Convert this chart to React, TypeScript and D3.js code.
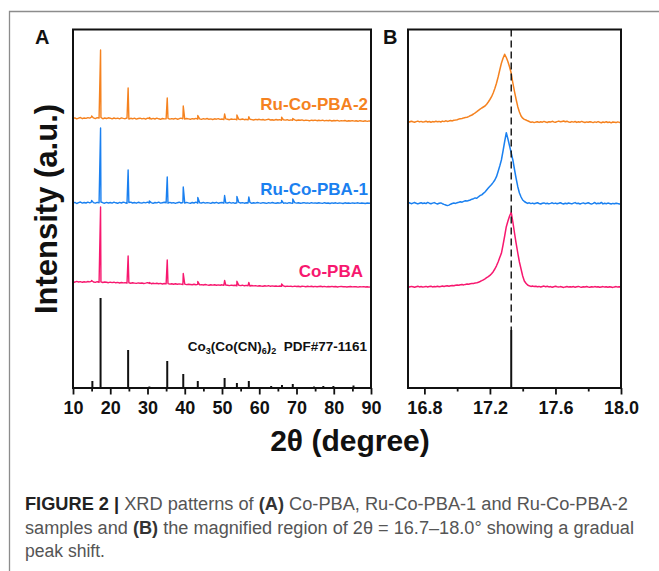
import React, { useEffect, useRef } from "react";
import * as d3 from "d3";

// panel A: baseline noise on a 0.5° grid from 10°, plus sharp peak tops
const aStart = 10;
const aStep = 0.5;
// panel B: 0.01° grid from 16.70° to 18.00°
const bStart = 16.7;
const bStep = 0.01;

const orangeBase = [
  6.5, 7.2, 6.1, 6.8, 7.5, 6.3, 7.0, 6.6, 7.4, 6.9,
  8.0, 7.1, 6.4, 7.3, 6.9, 7.6, 6.2, 7.0, 6.5, 7.2,
  6.8, 6.1, 7.0, 6.4, 6.9, 6.2, 7.1, 6.6, 6.3, 7.0,
  6.0, 6.7, 6.2, 6.9, 5.9, 6.5, 6.8, 6.1, 6.6, 5.8,
  6.9, 6.3, 5.9, 6.6, 6.0, 6.8, 6.2, 5.7, 6.5, 6.1,
  6.3, 6.7, 5.9, 6.4, 6.0, 6.6, 5.8, 6.3, 6.9, 6.2,
  5.9, 6.5, 6.1, 5.7, 6.4, 6.0, 6.6, 5.8, 6.2, 5.6,
  6.3, 5.9, 6.5, 5.7, 6.1, 5.5, 6.2, 5.8, 6.4, 5.6,
  6.0, 5.4, 6.1, 5.8, 5.3, 6.0, 5.6, 5.9, 5.2, 5.8,
  5.5, 6.0, 5.3, 5.7, 5.1, 5.8, 5.4, 5.0, 5.6, 5.2,
  5.7, 5.1, 5.5, 4.9, 5.4, 5.8, 5.0, 5.3, 4.8, 5.5,
  5.0, 5.4, 4.7, 5.2, 4.9, 5.3, 4.6, 5.1, 4.8, 5.2,
  4.5, 5.0, 4.7, 5.1, 4.4, 4.9, 4.6, 4.2, 4.8, 4.5,
  4.9, 4.3, 4.7, 4.4, 4.8, 4.1, 4.6, 4.3, 4.7, 4.0,
  4.5, 4.2, 4.6, 3.9, 4.4, 4.1, 4.5, 3.8, 4.3, 4.0,
  4.4, 3.9, 4.2, 3.7, 4.3, 4.0, 3.8, 4.2, 3.6, 4.1,
  3.9,
];
const orangePeaks = [
  [15.0, 9], [17.4, 75], [24.8, 37], [30.5, 7.5], [35.3, 27], [39.6, 19],
  [43.5, 9.5], [50.7, 11], [54.0, 10], [57.2, 8.2], [66.0, 7.8], [69.0, 6.5],
];

const blueBase = [
  4.8, 5.6, 4.5, 5.3, 6.0, 4.9, 5.5, 5.0, 5.8, 5.2,
  6.2, 5.4, 4.9, 5.7, 5.1, 6.0, 5.3, 4.8, 5.6, 5.0,
  5.5, 4.9, 5.8, 5.2, 4.7, 5.6, 5.0, 5.9, 5.3, 4.8,
  5.4, 5.9, 5.0, 5.5, 4.8, 5.7, 5.2, 4.9, 5.6, 5.1,
  5.8, 5.0, 5.4, 4.7, 5.5, 5.1, 5.9, 4.9, 5.3, 5.7,
  5.2, 4.8, 5.6, 5.0, 5.4, 4.6, 5.3, 5.8, 5.0, 5.5,
  4.9, 5.6, 5.1, 4.7, 5.5, 5.0, 5.8, 4.8, 5.3, 5.0,
  5.6, 4.9, 5.4, 5.1, 4.6, 5.5, 5.0, 5.7, 4.8, 5.2,
  5.5, 4.8, 5.3, 5.0, 5.7, 4.9, 5.4, 4.7, 5.2, 5.6,
  5.0, 5.4, 4.8, 5.3, 5.0, 5.6, 4.7, 5.2, 4.9, 5.5,
  5.1, 4.8, 5.4, 5.0, 4.6, 5.3, 4.9, 5.5, 5.0, 4.7,
  5.2, 4.9, 5.5, 4.8, 5.1, 4.6, 5.3, 5.0, 4.8, 5.4,
  4.9, 5.2, 4.7, 5.0, 5.4, 4.8, 5.1, 4.6, 5.3, 4.9,
  5.1, 4.7, 5.2, 4.9, 4.6, 5.3, 4.8, 5.0, 4.5, 5.1,
  4.8, 5.2, 4.6, 5.0, 4.9, 4.5, 5.2, 4.8, 5.0, 4.6,
  5.1, 4.7, 4.9, 5.2, 4.6, 5.0, 4.8, 4.5, 5.0, 4.8,
  4.9,
];
const bluePeaks = [
  [15.0, 7.5], [17.4, 80], [24.8, 38], [30.5, 7], [35.3, 31], [39.6, 21],
  [43.5, 10.5], [50.7, 12.5], [54.0, 11.5], [57.2, 11], [66.0, 7.5], [69.0, 9],
];

const pinkBase = [
  6.3, 5.8, 6.6, 6.0, 6.4, 5.7, 6.2, 5.9, 6.5, 6.1,
  6.8, 6.0, 5.6, 6.3, 5.8, 6.1, 5.5, 6.0, 5.7, 5.3,
  5.9, 5.4, 5.8, 5.2, 5.6, 5.0, 5.5, 5.1, 5.4, 4.9,
  5.3, 4.8, 5.2, 4.9, 4.6, 5.1, 4.7, 5.0, 4.5, 4.9,
  5.4, 4.6, 4.3, 4.8, 4.4, 4.7, 4.2, 4.6, 4.0, 4.5,
  4.1, 4.4, 3.9, 4.3, 3.8, 4.2, 3.7, 4.1, 3.9, 3.5,
  3.9, 3.4, 3.8, 3.5, 3.2, 3.7, 3.3, 3.6, 3.1, 3.4,
  3.0, 3.5, 3.1, 2.8, 3.3, 2.9, 3.2, 2.7, 3.1, 2.8,
  3.2, 2.6, 3.0, 2.7, 2.4, 2.9, 2.5, 2.8, 2.3, 2.7,
  2.4, 2.8, 2.2, 2.6, 2.3, 2.0, 2.5, 2.1, 2.4, 1.9,
  2.3, 2.0, 1.8, 2.2, 1.9, 2.3, 1.7, 2.1, 1.8, 2.0,
  1.6, 2.0, 1.7, 2.1, 1.5, 1.9, 1.6, 1.8, 1.4, 1.9,
  1.5, 1.8, 1.3, 1.7, 1.6, 1.2, 1.7, 1.4, 1.8, 1.3,
  1.6, 1.2, 1.5, 1.7, 1.3, 1.6, 1.1, 1.5, 1.3, 1.6,
  1.2, 1.5, 1.0, 1.4, 1.6, 1.2, 1.4, 1.0, 1.3, 1.5,
  1.1, 1.4, 1.2, 0.9, 1.3, 1.1, 1.4, 1.0, 1.2, 0.9,
  1.2,
];
const pinkPeaks = [
  [15.0, 7.5], [17.4, 81], [24.8, 32], [30.5, 5.5], [35.3, 28], [39.6, 14.5],
  [43.5, 6.5], [50.7, 7.5], [54.0, 6.8], [57.2, 5.5], [66.0, 4],
];

// Co3(Co(CN)6)2 PDF#77-1161 reference lines
const refSticks = [
  [15.2, 7], [17.4, 90], [24.8, 38], [30.5, 1.5], [35.3, 27], [39.6, 14],
  [43.5, 7], [50.7, 10], [54.0, 5], [57.2, 7], [63.2, 2], [66.1, 3],
  [69.0, 4], [74.7, 1.5], [77.2, 2], [79.9, 2], [85.3, 2.5], [87.9, 1],
];
const refStickB = [[17.33, 58]];

const orangeB = [
  3.5, 3.0, 3.8, 3.2, 2.7, 3.4, 3.9, 3.1, 3.6, 2.9,
  3.3, 3.8, 3.0, 3.5, 2.8, 3.4, 3.1, 3.7, 3.2, 3.6,
  3.0, 3.9, 3.4, 4.2, 3.6, 4.0, 4.5, 4.1, 4.8, 5.0,
  5.3, 5.9, 6.2, 6.5, 7.1, 7.5, 7.7, 8.4, 9.3, 10.0,
  11.0, 12.1, 13.3, 14.6, 15.8, 17.0, 18.0, 19.0, 20.8, 23.0,
  25.5, 28.3, 32.0, 36.5, 41.7, 48.0, 55.0, 61.7, 66.8, 70.7,
  67.5, 63.3, 58.0, 51.7, 42.0, 33.3, 25.5, 18.3, 13.0, 9.0,
  6.8, 5.6, 5.0, 4.2, 3.5, 2.7, 3.1, 2.4, 2.9, 3.3,
  2.6, 3.2, 2.8, 3.6, 3.0, 2.5, 3.3, 2.9, 3.7, 3.1,
  2.7, 3.4, 3.9, 3.2, 3.6, 4.0, 3.3, 3.8, 3.1, 2.8,
  3.4, 2.9, 3.5, 2.6, 3.2, 2.8, 3.6, 3.0, 2.5, 3.1,
  2.7, 3.3, 2.9, 2.4, 3.1, 2.6, 3.4, 2.8, 2.3, 3.0,
  2.6, 3.2, 2.5, 2.9, 2.2, 3.0, 2.7, 2.4, 3.1, 2.6,
  2.8,
];
const blueB = [
  4.6, 5.2, 4.3, 4.9, 5.5, 4.7, 4.1, 4.8, 5.3, 4.5,
  5.0, 4.4, 5.6, 4.8, 4.2, 4.9, 5.4, 4.6, 4.0, 4.7,
  5.1, 4.3, 3.6, 3.0, 2.4, 2.9, 3.8, 4.5, 5.0, 4.6,
  5.2, 5.7, 6.3, 5.8, 6.6, 7.2, 6.9, 7.5, 8.0, 8.8,
  9.3, 10.1, 9.8, 11.2, 12.5, 13.1, 14.6, 16.0, 18.0, 20.0,
  21.8, 23.5, 25.6, 28.0, 31.3, 36.5, 42.0, 48.0, 57.0, 66.5,
  75.3, 69.0, 62.0, 55.0, 48.0, 38.5, 29.5, 21.3, 15.0, 11.0,
  8.0, 6.5, 5.5, 4.6, 5.2, 4.4, 4.9, 4.2, 4.8, 5.3,
  4.5, 4.0, 4.7, 5.1, 4.3, 4.8, 4.1, 4.6, 5.2, 4.4,
  4.9, 4.2, 4.7, 5.3, 4.5, 4.0, 4.8, 4.3, 5.0, 4.6,
  4.1, 4.9, 5.4, 4.4, 4.8, 4.0, 4.6, 5.1, 4.3, 4.7,
  5.2, 4.5, 3.9, 4.6, 5.5, 4.2, 4.8, 4.4, 5.6, 4.1,
  4.7, 4.3, 4.9, 4.5, 4.0, 4.6, 4.2, 4.8, 4.4, 4.1,
  4.3,
];
const pinkB = [
  1.4, 1.0, 1.6, 1.2, 0.8, 1.3, 1.7, 1.1, 1.5, 0.9,
  1.2, 1.6, 1.0, 1.4, 1.8, 1.1, 1.5, 1.3, 1.7, 1.2,
  1.6, 2.0, 1.5, 1.9, 2.2, 1.8, 2.3, 2.6, 2.2, 2.8,
  3.0, 2.7, 3.2, 3.4, 3.1, 3.6, 3.9, 3.7, 4.2, 4.4,
  4.6, 4.9, 5.2, 5.8, 6.5, 7.3, 8.2, 9.2, 10.3, 11.4,
  12.6, 14.2, 16.3, 19.0, 22.2, 26.0, 30.5, 34.7, 43.0, 52.0,
  61.3, 67.0, 72.0, 75.7, 66.0, 55.0, 44.7, 35.0, 26.0, 19.0,
  12.0, 7.0, 4.7, 3.0, 2.2, 1.6, 2.0, 1.4, 1.8, 1.2,
  1.6, 1.0, 1.5, 1.9, 1.3, 1.7, 1.1, 1.4, 0.8, 1.3,
  1.7, 1.2, 0.9, 1.4, 1.0, 0.6, 1.1, 1.5, 0.9, 1.3,
  1.0, 1.4, 0.8, 1.2, 1.6, 1.1, 0.7, 1.3, 1.0, 1.5,
  1.1, 0.8, 1.3, 0.9, 1.4, 1.0, 1.2, 0.7, 1.1, 1.4,
  0.9, 1.2, 0.8, 1.3, 1.0, 0.6, 1.1, 1.4, 0.9, 1.2,
  1.0,
];

const seriesNames = ["Ru-Co-PBA-2", "Ru-Co-PBA-1", "Co-PBA"];
const seriesColors = ["#f5821f", "#1a80f0", "#f7186f"];
const xTicksA = [10, 20, 30, 40, 50, 60, 70, 80, 90];
const xMinorA = [15, 25, 35, 45, 55, 65, 75, 85];
const xTicksB = [16.8, 17.2, 17.6, 18.0];
const xMinorB = [17.0, 17.4, 17.8];

const App = () => {
  const ref = useRef(null);

  useEffect(() => {
    const svg = d3.select(ref.current);
    svg.selectAll("*").remove();

    const top = 29.5;
    const bottom = 388;
    const xA = d3.scaleLinear().domain([10, 90]).range([73, 371]);
    const xB = d3.scaleLinear().domain([16.7, 18.0]).range([408, 621]);
    const y = d3.scaleLinear().domain([0, 358.5]).range([bottom, top]);
    const offsets = [263, 180, 100];
    const font = "'Liberation Sans', Arial, sans-serif";

    // figure frame
    svg.append("path")
      .attr("d", "M9.5,571V11.5H659")
      .attr("fill", "none")
      .attr("stroke", "#8c8c8c")
      .attr("stroke-width", 1.3);

    // panel A curves
    const aSeries = [
      [orangeBase, orangePeaks],
      [blueBase, bluePeaks],
      [pinkBase, pinkPeaks],
    ].map(([base, peaks]) =>
      base
        .map((v, i) => [aStart + i * aStep, v])
        .concat(peaks)
        .sort((a, b) => a[0] - b[0])
    );

    aSeries.forEach((pts, i) => {
      const line = d3.line()
        .x((d) => xA(d[0]))
        .y((d) => y(d[1] + offsets[i]));
      svg.append("path")
        .datum(pts)
        .attr("d", line)
        .attr("fill", "none")
        .attr("stroke", seriesColors[i])
        .attr("stroke-width", 1.4)
        .attr("stroke-linejoin", "round");
    });

    svg.append("g")
      .selectAll("line")
      .data(refSticks)
      .join("line")
      .attr("x1", (d) => xA(d[0]))
      .attr("x2", (d) => xA(d[0]))
      .attr("y1", y(0))
      .attr("y2", (d) => y(d[1]))
      .attr("stroke", "#111")
      .attr("stroke-width", 2);

    // series labels
    const labelY = [110, 194.5, 277];
    const labelX = [368, 368, 363];
    seriesNames.forEach((name, i) => {
      svg.append("text")
        .attr("x", labelX[i])
        .attr("y", labelY[i])
        .attr("text-anchor", "end")
        .style("font", `bold 17px ${font}`)
        .attr("fill", seriesColors[i])
        .text(name);
    });

    const refLabel = svg.append("text")
      .attr("x", 367)
      .attr("y", 351)
      .attr("text-anchor", "end")
      .style("font", `bold 13.5px ${font}`)
      .attr("fill", "#111");
    refLabel.append("tspan").text("Co");
    refLabel.append("tspan").attr("dy", 3).style("font-size", "9px").text("3");
    refLabel.append("tspan").attr("dy", -3).text("(Co(CN)");
    refLabel.append("tspan").attr("dy", 3).style("font-size", "9px").text("6");
    refLabel.append("tspan").attr("dy", -3).text(")");
    refLabel.append("tspan").attr("dy", 3).style("font-size", "9px").text("2");
    refLabel.append("tspan").attr("dy", -3).attr("xml:space", "preserve").text("  PDF#77-1161");

    // panel B curves
    const bSeries = [orangeB, blueB, pinkB].map((vals) =>
      vals.map((v, i) => [bStart + i * bStep, v])
    );
    bSeries.forEach((pts, i) => {
      const line = d3.line()
        .x((d) => xB(d[0]))
        .y((d) => y(d[1] + offsets[i]));
      svg.append("path")
        .datum(pts)
        .attr("d", line)
        .attr("fill", "none")
        .attr("stroke", seriesColors[i])
        .attr("stroke-width", 1.5)
        .attr("stroke-linejoin", "round");
    });

    svg.append("line")
      .attr("x1", xB(refStickB[0][0]))
      .attr("x2", xB(refStickB[0][0]))
      .attr("y1", top)
      .attr("y2", y(refStickB[0][1]))
      .attr("stroke", "#111")
      .attr("stroke-width", 1.4)
      .attr("stroke-dasharray", "7,4");
    svg.append("g")
      .selectAll("line")
      .data(refStickB)
      .join("line")
      .attr("x1", (d) => xB(d[0]))
      .attr("x2", (d) => xB(d[0]))
      .attr("y1", y(0))
      .attr("y2", (d) => y(d[1]))
      .attr("stroke", "#111")
      .attr("stroke-width", 2);

    // axes
    const drawAxis = (x, major, minor, fmt) => {
      const g = svg.append("g").attr("transform", `translate(0,${bottom})`);
      g.call(d3.axisBottom(x).tickValues(major).tickSize(6.5).tickSizeOuter(0).tickFormat(fmt));
      g.select(".domain").remove();
      g.selectAll("line").attr("stroke", "#111").attr("stroke-width", 1.8);
      g.selectAll("text")
        .attr("y", 26)
        .attr("dy", null)
        .attr("fill", "#111")
        .style("font", `bold 18px ${font}`);
      const m = svg.append("g").attr("transform", `translate(0,${bottom})`);
      m.call(d3.axisBottom(x).tickValues(minor).tickSize(3.5).tickSizeOuter(0).tickFormat(() => ""));
      m.select(".domain").remove();
      m.selectAll("line").attr("stroke", "#111").attr("stroke-width", 1.8);
    };
    drawAxis(xA, xTicksA, xMinorA, d3.format("d"));
    drawAxis(xB, xTicksB, xMinorB, d3.format(".1f"));

    // frames
    [xA, xB].forEach((x) => {
      const [x0, x1] = x.range();
      svg.append("rect")
        .attr("x", x0)
        .attr("y", top)
        .attr("width", x1 - x0)
        .attr("height", bottom - top)
        .attr("fill", "none")
        .attr("stroke", "#111")
        .attr("stroke-width", 2);
    });

    // panel letters and axis titles
    svg.append("text").attr("x", 35).attr("y", 44)
      .style("font", `bold 20px ${font}`).attr("fill", "#111").text("A");
    svg.append("text").attr("x", 383).attr("y", 44)
      .style("font", `bold 20px ${font}`).attr("fill", "#111").text("B");

    svg.append("text")
      .attr("transform", `translate(57,209) rotate(-90)`)
      .attr("text-anchor", "middle")
      .style("font", `bold 31px ${font}`)
      .attr("fill", "#111")
      .text("Intensity (a.u.)");

    svg.append("text")
      .attr("x", 350)
      .attr("y", 451)
      .attr("text-anchor", "middle")
      .style("font", `bold 30px ${font}`)
      .attr("fill", "#111")
      .text("2θ (degree)");

    // caption
    const capFont = "'Liberation Sans Narrow', 'Arial Narrow', 'Liberation Sans', Arial, sans-serif";
    const captionLines = [
      { len: 603, parts: [["FIGURE 2 | ", true, "#222"], ["XRD patterns of ", false], ["(A)", true], [" Co-PBA, Ru-Co-PBA-1 and Ru-Co-PBA-2", false]] },
      { len: 609, parts: [["samples and ", false], ["(B)", true], [" the magnified region of 2θ = 16.7–18.0° showing a gradual", false]] },
      { len: 80, parts: [["peak shift.", false]] },
    ];
    captionLines.forEach((ln, i) => {
      const t = svg.append("text")
        .attr("x", 25)
        .attr("y", 510 + i * 23.5)
        .attr("textLength", ln.len)
        .attr("lengthAdjust", "spacingAndGlyphs")
        .attr("xml:space", "preserve")
        .style("font-family", capFont)
        .style("font-size", "18px");
      ln.parts.forEach(([s, bold, col]) => {
        t.append("tspan")
          .attr("font-weight", bold ? "bold" : "normal")
          .attr("fill", col || (bold ? "#333" : "#555"))
          .text(s);
      });
    });
  }, []);

  return (
    <svg
      ref={ref}
      width={659}
      height={571}
      style={{ position: "absolute", left: 0, top: 0, background: "#fff" }}
    />
  );
};

export default App;
